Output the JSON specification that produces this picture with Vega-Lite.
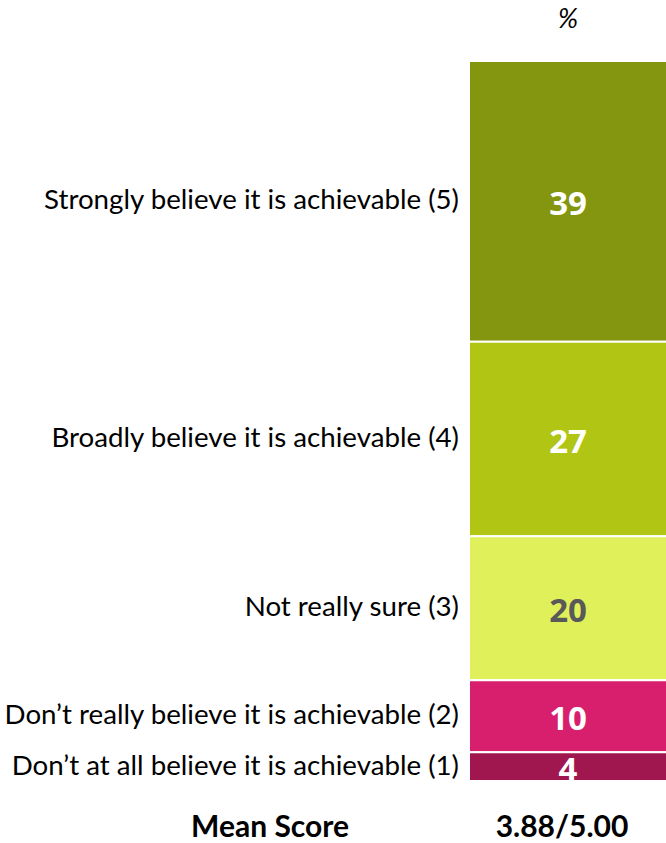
{
  "$schema": "https://vega.github.io/schema/vega-lite/v6.json",
  "padding": 0,
  "background": "white",
  "config": {"view": {"stroke": null}, "concat": {"spacing": 8}},
  "datasets": {
    "dist": [
      {"label": "Strongly believe it is achievable (5)", "value": 39, "score": 5},
      {"label": "Broadly believe it is achievable (4)", "value": 27, "score": 4},
      {"label": "Not really sure (3)", "value": 20, "score": 3},
      {"label": "Don’t really believe it is achievable (2)", "value": 10, "score": 2},
      {"label": "Don’t at all believe it is achievable (1)", "value": 4, "score": 1}
    ],
    "summary": [{"label": "Mean Score", "value": "3.88/5.00", "unit": "%"}]
  },
  "hconcat": [
    {
      "width": 460,
      "height": 843,
      "layer": [
        {
          "data": {"name": "dist"},
          "transform": [
            {"stack": "value", "groupby": [], "sort": [{"field": "score"}], "as": ["y0", "y1"]},
            {"calculate": "(datum.y0 + datum.y1) / 2", "as": "mid"}
          ],
          "mark": {"type": "text", "align": "right", "baseline": "middle", "dx": -1, "font": "Lato", "fontSize": 27.7, "color": "#000000"},
          "encoding": {
            "y": {"field": "mid", "type": "quantitative", "scale": {"domain": [-8.611, 108.472], "nice": false, "zero": false}, "axis": null},
            "x": {"datum": 1, "type": "quantitative", "scale": {"domain": [0, 1]}, "axis": null},
            "text": {"field": "label"}
          }
        },
        {
          "data": {"name": "summary"},
          "mark": {"type": "text", "align": "center", "baseline": "middle", "font": "Lato", "fontWeight": "bold", "fontSize": 30, "color": "#000000"},
          "encoding": {
            "y": {"datum": -6.5, "type": "quantitative"},
            "x": {"datum": 0.587, "type": "quantitative"},
            "text": {"field": "label"}
          }
        }
      ]
    },
    {
      "width": 198,
      "height": 843,
      "layer": [
        {
          "data": {"name": "dist"},
          "transform": [
            {"stack": "value", "groupby": [], "sort": [{"field": "score"}], "as": ["y0", "y1"]}
          ],
          "mark": {"type": "bar", "stroke": "white", "strokeWidth": 2},
          "encoding": {
            "x": {"datum": 0, "type": "quantitative", "scale": {"domain": [0, 1]}, "axis": null},
            "x2": {"datum": 1},
            "y": {"field": "y0", "type": "quantitative", "scale": {"domain": [-8.611, 108.472], "nice": false, "zero": false}, "axis": null},
            "y2": {"field": "y1"},
            "color": {
              "field": "score",
              "type": "ordinal",
              "scale": {"domain": [5, 4, 3, 2, 1], "range": ["#84960F", "#B1C515", "#DFF05A", "#D81F6E", "#A0174F"]},
              "legend": null
            }
          }
        },
        {
          "data": {"name": "dist"},
          "transform": [
            {"stack": "value", "groupby": [], "sort": [{"field": "score"}], "as": ["y0", "y1"]},
            {"calculate": "(datum.y0 + datum.y1) / 2", "as": "mid"}
          ],
          "mark": {"type": "text", "align": "center", "baseline": "middle", "dy": 4, "font": "Open Sans", "fontWeight": "bold", "fontSize": 33},
          "encoding": {
            "x": {"datum": 0.5, "type": "quantitative"},
            "y": {"field": "mid", "type": "quantitative"},
            "text": {"field": "value"},
            "color": {
              "condition": {"test": "datum.score === 3", "value": "#595959"},
              "value": "#FFFFFF"
            }
          }
        },
        {
          "data": {"name": "summary"},
          "mark": {"type": "text", "align": "center", "baseline": "middle", "dx": -6, "font": "Lato", "fontWeight": "bold", "fontSize": 30, "color": "#000000"},
          "encoding": {
            "x": {"datum": 0.5, "type": "quantitative"},
            "y": {"datum": -6.5, "type": "quantitative"},
            "text": {"field": "value"}
          }
        },
        {
          "data": {"name": "summary"},
          "mark": {"type": "text", "align": "center", "baseline": "middle", "font": "Lato", "fontStyle": "italic", "fontSize": 27, "color": "#000000"},
          "encoding": {
            "x": {"datum": 0.5, "type": "quantitative"},
            "y": {"datum": 105.7, "type": "quantitative"},
            "text": {"field": "unit"}
          }
        }
      ]
    }
  ]
}
